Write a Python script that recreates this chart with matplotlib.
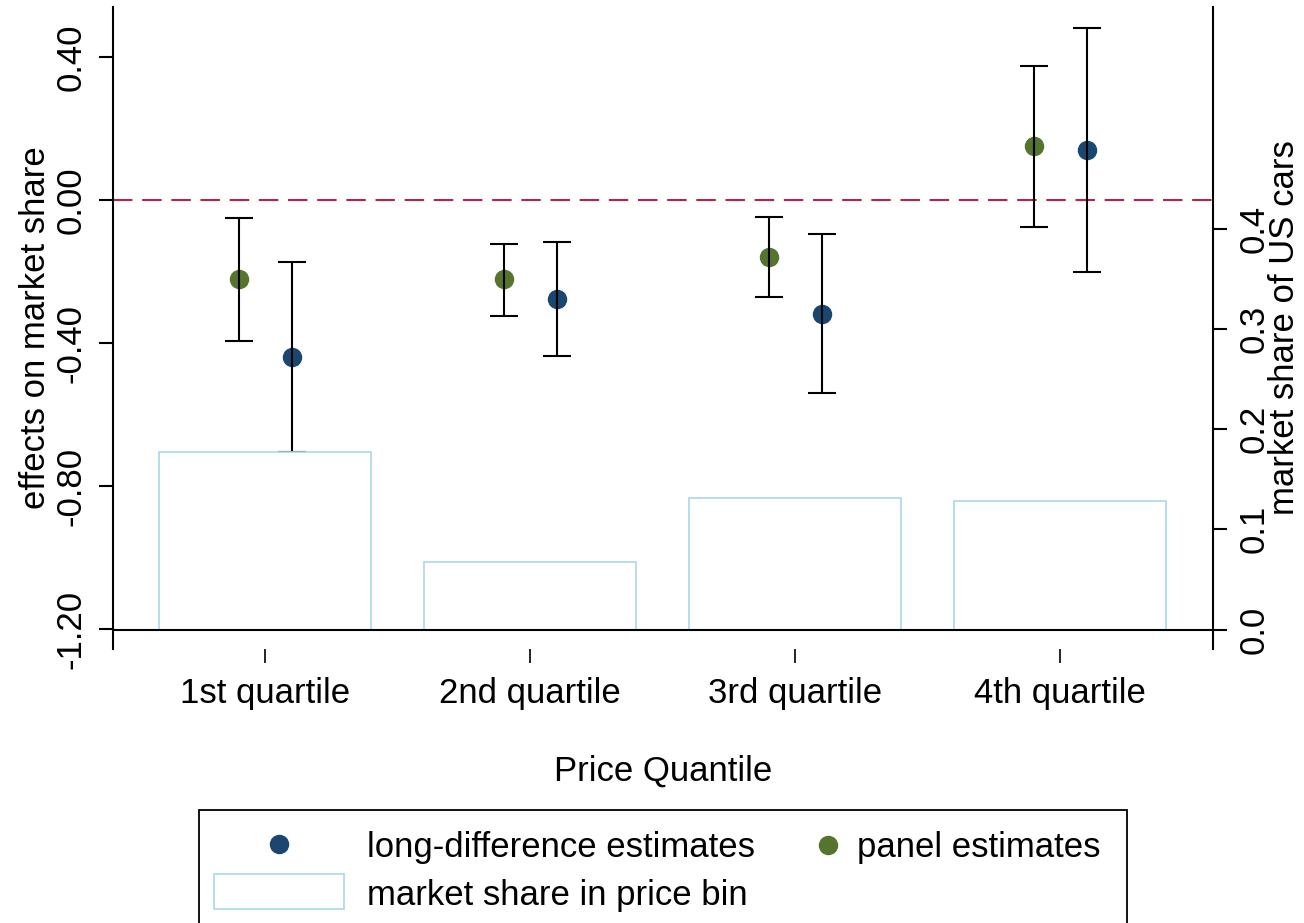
import numpy as np
import matplotlib
matplotlib.use("Agg")
import matplotlib.pyplot as plt
from matplotlib.patches import Rectangle
from matplotlib.lines import Line2D

plt.rcParams["font.family"] = ["Liberation Sans", "DejaVu Sans"]

# data
quartiles = ["1st quartile", "2nd quartile", "3rd quartile", "4th quartile"]
ld_est = [-0.440, -0.276, -0.318, 0.140]
ld_lo = [-0.706, -0.437, -0.541, -0.202]
ld_hi = [-0.174, -0.117, -0.094, 0.480]
pn_est = [-0.222, -0.222, -0.159, 0.151]
pn_lo = [-0.395, -0.324, -0.270, -0.0755]
pn_hi = [-0.0495, -0.122, -0.048, 0.375]
share = [0.177, 0.067, 0.131, 0.128]

BLUE = "#1a476f"
GREEN = "#55752f"
LTBLUE = "#a9d8e6"
RED = "#c8143c"
FS = 25

W, H = 1304, 923
fig = plt.figure(figsize=(W / 100, H / 100), dpi=100)


def px(x, y):
    return x / W, 1 - y / H


ax = fig.add_axes([113 / W, 1 - 649 / H, 1100 / W, 642 / H])
ax2 = ax.twinx()

x = np.arange(1, 5)
ld_est = np.array(ld_est)
pn_est = np.array(pn_est)

# estimates with confidence intervals
ax.axhline(0, color=RED, lw=1.4, dashes=(10, 5), zorder=1)
ax.errorbar(x - 0.1, pn_est, yerr=[pn_est - np.array(pn_lo), np.array(pn_hi) - pn_est],
            fmt="o", color=GREEN, ms=13, ecolor="black", elinewidth=1.5,
            capsize=10, capthick=1.5, barsabove=True)
ax.errorbar(x + 0.1, ld_est, yerr=[ld_est - np.array(ld_lo), np.array(ld_hi) - ld_est],
            fmt="o", color=BLUE, ms=13, ecolor="black", elinewidth=1.5,
            capsize=10, capthick=1.5, barsabove=True)

# market share bars on the right axis
ax2.bar(x, share, width=0.8, facecolor="white", edgecolor=LTBLUE, linewidth=1.2, zorder=1)
ax2.axhline(0, color="black", lw=1.5, zorder=3)

ax.set_xlim(0.4264, 4.577)
ax.set_ylim(-1.256, 0.540)
ax2.set_ylim(-0.0194, 0.621)

ax.set_xticks(x, quartiles)
ax.set_yticks([0.4, 0.0, -0.4, -0.8, -1.2])
ax.set_yticklabels(["%.2f" % v for v in [0.4, 0.0, -0.4, -0.8, -1.2]])
ax2.set_yticks([0.0, 0.1, 0.2, 0.3, 0.4])
ax2.set_yticklabels(["%.1f" % v for v in [0.0, 0.1, 0.2, 0.3, 0.4]])

ax.tick_params(axis="x", length=10, width=1.2, pad=10, labelsize=FS)
ax.tick_params(axis="y", length=10, width=1.5, pad=8, labelsize=FS, labelrotation=90)
ax2.tick_params(axis="y", length=10, width=1.5, pad=8, labelsize=FS, labelrotation=90)
for lab in ax.get_yticklabels() + ax2.get_yticklabels():
    lab.set_va("center")

for s in ["top", "bottom", "right"]:
    ax.spines[s].set_visible(False)
for s in ["top", "bottom", "left"]:
    ax2.spines[s].set_visible(False)
ax.spines["left"].set_linewidth(1.5)
ax2.spines["right"].set_linewidth(1.5)

# axis titles
fig.text(*px(36, 328), "effects on market share", rotation=90, ha="center", va="center", fontsize=FS)
fig.text(*px(1285, 328), "market share of US cars", rotation=90, ha="center", va="center", fontsize=FS)
fig.text(*px(663, 771), "Price Quantile", ha="center", va="center", fontsize=FS)

# legend, laid out by hand like the Stata key
fig.add_artist(Rectangle(px(199, 926), (1127 - 199) / W, (926 - 810) / H, transform=fig.transFigure,
                         fill=False, edgecolor="black", lw=1.3))
fig.add_artist(Line2D([279 / W], [1 - 844 / H], marker="o", ms=13, color=BLUE, transform=fig.transFigure))
fig.add_artist(Line2D([828 / W], [1 - 845 / H], marker="o", ms=13, color=GREEN, transform=fig.transFigure))
fig.add_artist(Rectangle(px(214, 909), 130 / W, 35 / H, transform=fig.transFigure,
                         facecolor="white", edgecolor=LTBLUE, lw=1.2))
fig.text(*px(367, 857), "long-difference estimates", ha="left", va="baseline", fontsize=FS)
fig.text(*px(857, 857), "panel estimates", ha="left", va="baseline", fontsize=FS)
fig.text(*px(367, 905), "market share in price bin", ha="left", va="baseline", fontsize=FS)

fig.savefig("out.png", dpi=100)
